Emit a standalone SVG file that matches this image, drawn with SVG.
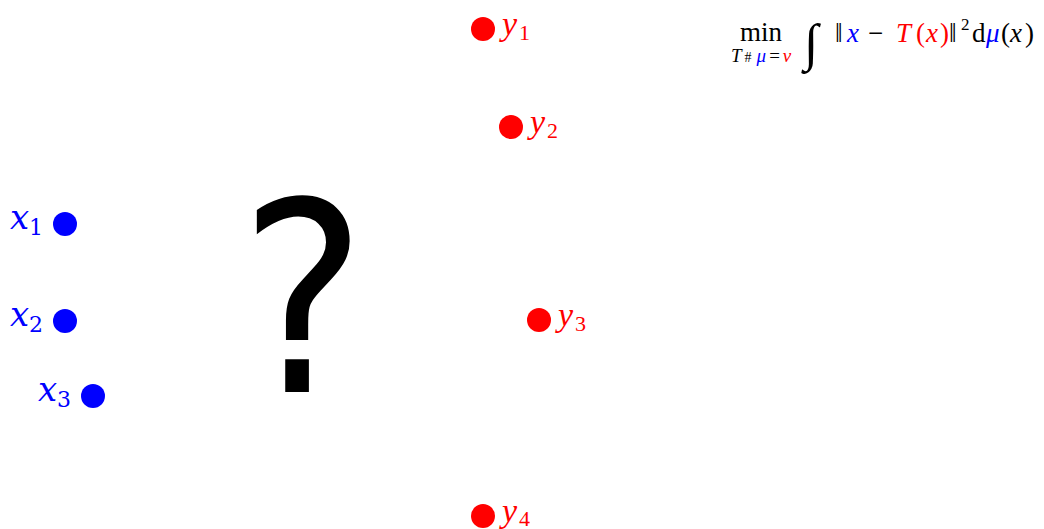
<svg xmlns="http://www.w3.org/2000/svg" width="1044" height="529" viewBox="0 0 1044 529">
<style>
.src{fill:#0000ff}
.tgt{fill:#ff0000}
.lbl{font-style:italic;font-size:34px}
.sub{font-style:normal;font-size:22px}
.f{font-size:27px;fill:#000}
.it{font-style:italic}
.b{fill:#0000ff}
.r{fill:#ff0000}
</style>
<rect width="1044" height="529" fill="#fff"/>
<g id="x1" font-family="DejaVu Serif, serif"><circle class="src" cx="65" cy="224" r="12"/><text class="lbl src" x="10" y="229">x</text><text class="sub src" x="29" y="235">1</text></g>
<g id="x2" font-family="DejaVu Serif, serif"><circle class="src" cx="65" cy="321" r="12"/><text class="lbl src" x="10" y="326">x</text><text class="sub src" x="29" y="332">2</text></g>
<g id="x3" font-family="DejaVu Serif, serif"><circle class="src" cx="93" cy="396" r="12"/><text class="lbl src" x="38" y="401">x</text><text class="sub src" x="57" y="407">3</text></g>
<g id="y1" font-family="Liberation Serif, serif"><circle class="tgt" cx="483" cy="29" r="12"/><text class="lbl tgt" x="502" y="35">y</text><text class="sub tgt" x="519" y="40">1</text></g>
<g id="y2" font-family="Liberation Serif, serif"><circle class="tgt" cx="511" cy="127" r="12"/><text class="lbl tgt" x="530" y="133">y</text><text class="sub tgt" x="547" y="138">2</text></g>
<g id="y3" font-family="Liberation Serif, serif"><circle class="tgt" cx="539" cy="320" r="12"/><text class="lbl tgt" x="558" y="326">y</text><text class="sub tgt" x="575" y="331">3</text></g>
<g id="y4" font-family="Liberation Serif, serif"><circle class="tgt" cx="483" cy="516" r="12"/><text class="lbl tgt" x="502" y="522">y</text><text class="sub tgt" x="519" y="526">4</text></g>
<g id="question"><text transform="translate(303 392) scale(0.9 1)" text-anchor="middle" font-family="DejaVu Sans, sans-serif" font-size="265" fill="#000">?</text></g>
<g id="formula" class="f" font-family="Liberation Serif, serif">
<text x="740" y="41">min</text>
<text x="731" y="62" font-size="19" letter-spacing="3"><tspan class="it">T</tspan><tspan font-size="14">#</tspan><tspan class="it b" dx="2">μ</tspan><tspan>=</tspan><tspan class="it r">ν</tspan></text>
<text x="804" y="60" font-size="52" class="it">∫</text>
<text y="42"><tspan x="835">‖</tspan><tspan class="it b" x="847">x</tspan><tspan x="868">−</tspan><tspan class="it r" x="896">T</tspan><tspan class="r" x="916">(</tspan><tspan class="it r" x="926">x</tspan><tspan class="r" x="940">)</tspan><tspan x="949">‖</tspan><tspan x="961" y="30" font-size="17">2</tspan><tspan x="972" y="42">d</tspan><tspan class="it b" x="986">μ</tspan><tspan x="1001">(</tspan><tspan class="it" x="1010">x</tspan><tspan x="1025">)</tspan></text>
</g>
</svg>
